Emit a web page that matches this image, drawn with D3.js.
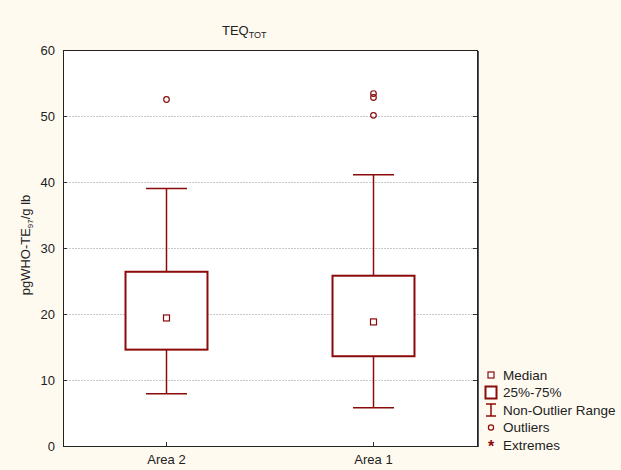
<!DOCTYPE html>
<html>
<head>
<meta charset="utf-8">
<script src="https://cdn.jsdelivr.net/npm/d3@7"></script>
<style>
  body { margin: 0; background: #fefaf0; }
  svg { display: block; font-family: "Liberation Sans", Arial, sans-serif; }
</style>
</head>
<body>
<svg id="chart" width="621" height="470"></svg>
<script>
// Box plot: TEQ_TOT by area
const categories = ['Area 2', 'Area 1'];
const medians = [19.4, 18.8];
const q1 = [14.6, 13.6];
const q3 = [26.4, 25.8];
const whiskLow = [7.9, 5.8];
const whiskHigh = [39.0, 41.1];
const outliers = [[52.5], [50.1, 52.8, 53.4]];
const yTicks = [0, 10, 20, 30, 40, 50, 60];
const legendLabels = ['Median', '25%-75%', 'Non-Outlier Range', 'Outliers', 'Extremes'];

const color = '#8b0a0a';
const svg = d3.select('#chart');
const W = 621, H = 470;
const m = { left: 63, top: 50, right: 477, bottom: 446 };

svg.append('rect').attr('width', W).attr('height', H).attr('fill', '#fefaf0');

const x = d3.scaleBand().domain(categories).range([m.left, m.right])
  .paddingInner(0.604).paddingOuter(0.302);
const y = d3.scaleLinear().domain([0, 60]).range([m.bottom, m.top]);

// plot area
svg.append('rect')
  .attr('x', m.left).attr('y', m.top)
  .attr('width', m.right - m.left).attr('height', m.bottom - m.top)
  .attr('fill', '#fff');

// gridlines
svg.append('g')
  .selectAll('line')
  .data(yTicks.filter(t => t > 0 && t < 60))
  .join('line')
  .attr('x1', m.left).attr('x2', m.right)
  .attr('y1', d => y(d) + 0.5).attr('y2', d => y(d) + 0.5)
  .attr('stroke', '#c8c8c8')
  .attr('stroke-dasharray', '2,1');

// axes
const yAxis = svg.append('g')
  .attr('transform', `translate(${m.left},0)`)
  .call(d3.axisLeft(y).tickValues(yTicks).tickSize(-4).tickPadding(8));
yAxis.select('.domain').remove();
yAxis.selectAll('text').attr('font-size', 13).attr('fill', '#222');
yAxis.selectAll('line').attr('stroke', '#333');

const yAxisR = svg.append('g')
  .attr('transform', `translate(${m.right},0)`)
  .call(d3.axisRight(y).tickValues(yTicks).tickSize(-4).tickFormat(''));
yAxisR.select('.domain').remove();
yAxisR.selectAll('line').attr('stroke', '#333');

const xAxis = svg.append('g')
  .attr('transform', `translate(0,${m.bottom})`)
  .call(d3.axisBottom(x).tickSize(-4).tickPadding(9));
xAxis.select('.domain').remove();
xAxis.selectAll('text').attr('font-size', 13).attr('fill', '#222');
xAxis.selectAll('line').attr('stroke', '#333');

// frame
svg.append('rect')
  .attr('x', m.left + 0.5).attr('y', m.top + 0.5)
  .attr('width', m.right - m.left).attr('height', m.bottom - m.top)
  .attr('fill', 'none').attr('stroke', '#222');
svg.append('line')
  .attr('x1', m.right + 1.5).attr('x2', m.right + 1.5)
  .attr('y1', m.top + 1).attr('y2', m.bottom + 1)
  .attr('stroke', '#555');

// boxes
const g = svg.append('g');
const bw = x.bandwidth();
categories.forEach((c, i) => {
  const cx = x(c) + bw / 2;
  const cap = bw / 2;
  // whiskers
  g.append('line').attr('x1', cx).attr('x2', cx)
    .attr('y1', y(q3[i])).attr('y2', y(whiskHigh[i]))
    .attr('stroke', color).attr('stroke-width', 1.5);
  g.append('line').attr('x1', cx).attr('x2', cx)
    .attr('y1', y(q1[i])).attr('y2', y(whiskLow[i]))
    .attr('stroke', color).attr('stroke-width', 1.5);
  [whiskHigh[i], whiskLow[i]].forEach(v => {
    g.append('line').attr('x1', cx - cap / 2).attr('x2', cx + cap / 2)
      .attr('y1', y(v)).attr('y2', y(v))
      .attr('stroke', color).attr('stroke-width', 1.5);
  });
  // box
  g.append('rect')
    .attr('x', x(c)).attr('y', y(q3[i]))
    .attr('width', bw).attr('height', y(q1[i]) - y(q3[i]))
    .attr('fill', '#fff').attr('stroke', color).attr('stroke-width', 2);
  // median
  g.append('rect')
    .attr('x', cx - 3).attr('y', y(medians[i]) - 3)
    .attr('width', 6).attr('height', 6)
    .attr('fill', '#fff').attr('stroke', color).attr('stroke-width', 1.2);
  // outliers
  g.selectAll(null)
    .data(outliers[i])
    .join('circle')
    .attr('cx', cx).attr('cy', d => y(d))
    .attr('r', 2.8)
    .attr('fill', 'none').attr('stroke', color).attr('stroke-width', 1.2);
});

// title
svg.append('text')
  .attr('x', 222).attr('y', 35)
  .attr('font-size', 13).attr('fill', '#222')
  .text('TEQ')
  .append('tspan').attr('font-size', 9).attr('dy', 3).text('TOT');

// y axis label
svg.append('text')
  .attr('transform', 'translate(30,245) rotate(-90)')
  .attr('text-anchor', 'middle')
  .attr('font-size', 13).attr('fill', '#222')
  .text('pgWHO-TE')
  .call(t => t.append('tspan').attr('font-size', 8).attr('dy', 3).text('97'))
  .call(t => t.append('tspan').attr('dy', -3).text('/g lb'));

// legend
const ly = d3.scalePoint().domain(legendLabels).range([375, 445]);
const lg = svg.append('g');
const lx = 491;
lg.append('rect').attr('x', lx - 3).attr('y', ly('Median') - 3).attr('width', 6).attr('height', 6)
  .attr('fill', '#fff').attr('stroke', color).attr('stroke-width', 1.2);
lg.append('rect').attr('x', lx - 5.5).attr('y', ly('25%-75%') - 6).attr('width', 11).attr('height', 12)
  .attr('fill', '#fff').attr('stroke', color).attr('stroke-width', 2);
const nr = ly('Non-Outlier Range');
lg.append('line').attr('x1', lx).attr('x2', lx).attr('y1', nr - 6).attr('y2', nr + 6).attr('stroke', color).attr('stroke-width', 1.5);
lg.append('line').attr('x1', lx - 5).attr('x2', lx + 5).attr('y1', nr - 6).attr('y2', nr - 6).attr('stroke', color).attr('stroke-width', 1.5);
lg.append('line').attr('x1', lx - 5).attr('x2', lx + 5).attr('y1', nr + 6).attr('y2', nr + 6).attr('stroke', color).attr('stroke-width', 1.5);
lg.append('circle').attr('cx', lx).attr('cy', ly('Outliers')).attr('r', 2.6)
  .attr('fill', 'none').attr('stroke', color).attr('stroke-width', 1.2);
lg.append('text').attr('x', lx).attr('y', ly('Extremes') + 7)
  .attr('text-anchor', 'middle').attr('font-size', 16).attr('font-weight', 'bold').attr('fill', color).text('*');
lg.selectAll('text.lab')
  .data(legendLabels)
  .join('text')
  .attr('class', 'lab')
  .attr('x', 503).attr('y', d => ly(d) + 4.5)
  .attr('font-size', 13.5).attr('fill', '#222')
  .text(d => d);
</script>
</body>
</html>
